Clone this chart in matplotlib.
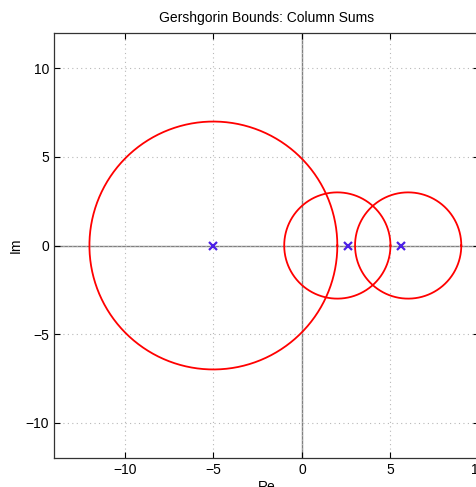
import matplotlib
matplotlib.use("Agg")
import matplotlib.pyplot as plt
import numpy as np

# Gershgorin discs (column sums): centres and radii
centres = [-5.0, 2.0, 6.0]
radii = [7.0, 3.0, 3.0]
# eigenvalues (real parts; imaginary part 0)
eig_re = [-5.0, 2.6, 5.6]
eig_im = [0.0, 0.0, 0.0]

xticks = [-10, -5, 0, 5, 10]
yticks = [-10, -5, 0, 5, 10]

plt.rcParams["font.family"] = ["Liberation Sans", "DejaVu Sans"]

fig = plt.figure(figsize=(4.77, 4.87), dpi=100)
ax = fig.add_axes([54 / 477, 29 / 487, 425 / 477, 425 / 487])

t = np.linspace(0, 2 * np.pi, 400)
for c, r in zip(centres, radii):
    ax.plot(c + r * np.cos(t), r * np.sin(t), color="#ff0000", lw=1.3)

ax.axhline(0, color="#808080", lw=1.0, zorder=1)
ax.axvline(0, color="#808080", lw=1.0, zorder=1)

ax.plot(eig_re, eig_im, "x", color="#4b1fe6", ms=6, mew=1.6, ls="none", zorder=3)

ax.set_xlim(-14, 10)
ax.set_ylim(-12, 12)
ax.set_xticks(xticks)
ax.set_yticks(yticks)
ax.set_xticklabels(["\u221210", "\u22125", "0", "5", "10"])
ax.set_yticklabels(["\u221210", "\u22125", "0", "5", "10"])
ax.grid(True, ls=(0, (1, 3)), color="#b8b8b8", lw=0.8)
ax.tick_params(direction="in", length=4, labelsize=10, top=True, right=True)
for s in ax.spines.values():
    s.set_color("#333333")
    s.set_linewidth(0.9)

ax.set_title("Gershgorin Bounds: Column Sums", fontsize=10, pad=8)
ax.set_xlabel("Re", fontsize=10, labelpad=2)
ax.set_ylabel("Im", fontsize=10, labelpad=2)

fig.savefig("out.png", dpi=100)
